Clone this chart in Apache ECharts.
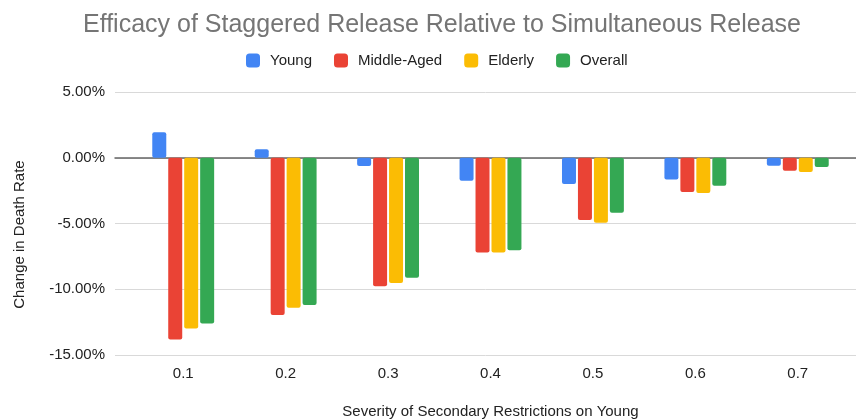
<!DOCTYPE html>
<html><head><meta charset="utf-8">
<script src="https://cdn.jsdelivr.net/npm/echarts@6/dist/echarts.min.js"></script>
<style>html,body{margin:0;padding:0;background:#fff}#c{width:856px;height:419px}</style>
</head><body><div id="c"></div>
<script>
const categories = ['0.1','0.2','0.3','0.4','0.5','0.6','0.7'];
const seriesNames = ['Young','Middle-Aged','Elderly','Overall'];
const young = [1.93, 0.65, -0.62, -1.75, -2.0, -1.65, -0.6];
const middleAged = [-13.82, -11.95, -9.78, -7.2, -4.74, -2.6, -0.99];
const elderly = [-12.98, -11.4, -9.52, -7.2, -4.95, -2.69, -1.09];
const overall = [-12.6, -11.2, -9.12, -7.04, -4.19, -2.13, -0.71];
const yTicks = [-15, -10, -5, 0, 5];
const colors = ['#4285F4','#EA4335','#FBBC04','#34A853'];
const values = [young, middleAged, elderly, overall];

const font = 'Liberation Sans, Arial, sans-serif';
const chart = echarts.init(document.getElementById('c'));
chart.setOption({
  animation: false,
  color: colors,
  title: {
    text: 'Efficacy of Staggered Release Relative to Simultaneous Release',
    left: 78, top: 8,
    textStyle: {fontFamily: font, fontSize: 25, fontWeight: 'normal', color: '#757575'}
  },
  legend: {
    data: seriesNames, top: 48, left: 241,
    itemWidth: 14, itemHeight: 14, itemGap: 22,
    icon: 'roundRect',
    textStyle: {fontFamily: font, fontSize: 15, color: '#222', padding: [0, 0, 0, 5]}
  },
  grid: [
    {left: 132, right: 7, top: 92, bottom: 64, containLabel: false, outerBoundsMode: 'none'},
    {left: 115, right: 0, top: 92, bottom: 64, containLabel: false, outerBoundsMode: 'none'}
  ],
  xAxis: [
    {type: 'category', gridIndex: 0, data: categories,
     axisLine: {show: false}, axisTick: {show: false},
     axisLabel: {fontFamily: font, fontSize: 15, color: '#222', margin: 11},
     name: 'Severity of Secondary Restrictions on Young', nameLocation: 'middle', nameGap: 49,
     nameTextStyle: {fontFamily: font, fontSize: 15, color: '#222'}},
    {type: 'value', gridIndex: 1, min: 0, max: 1, show: true,
     axisLabel: {show: false}, axisTick: {show: false}, splitLine: {show: false},
     axisLine: {show: true, onZero: true, lineStyle: {color: '#666', width: 1.5}}}
  ],
  yAxis: [
    {type: 'value', gridIndex: 0, min: yTicks[0], max: yTicks[yTicks.length-1], interval: 5,
     axisLabel: {show: false}, splitLine: {show: false}, axisLine: {show: false}, axisTick: {show: false}},
    {type: 'value', gridIndex: 1, min: yTicks[0], max: yTicks[yTicks.length-1], interval: 5,
     axisLine: {show: false}, axisTick: {show: false},
     splitLine: {lineStyle: {color: '#d9d9d9', width: 1}},
     axisLabel: {fontFamily: font, fontSize: 15, color: '#222', margin: 10,
       formatter: v => v.toFixed(2) + '%'},
     name: 'Change in Death Rate', nameLocation: 'middle', nameGap: 88,
     nameTextStyle: {fontFamily: font, fontSize: 15, color: '#222', padding: [0, 0, 0, -22]}}
  ],
  series: seriesNames.map((n, i) => ({
    name: n, type: 'bar', xAxisIndex: 0, yAxisIndex: 0,
    data: values[i], barWidth: 14, barGap: '14%',
    itemStyle: {color: colors[i], borderRadius: 2}
  }))
});
</script></body></html>
